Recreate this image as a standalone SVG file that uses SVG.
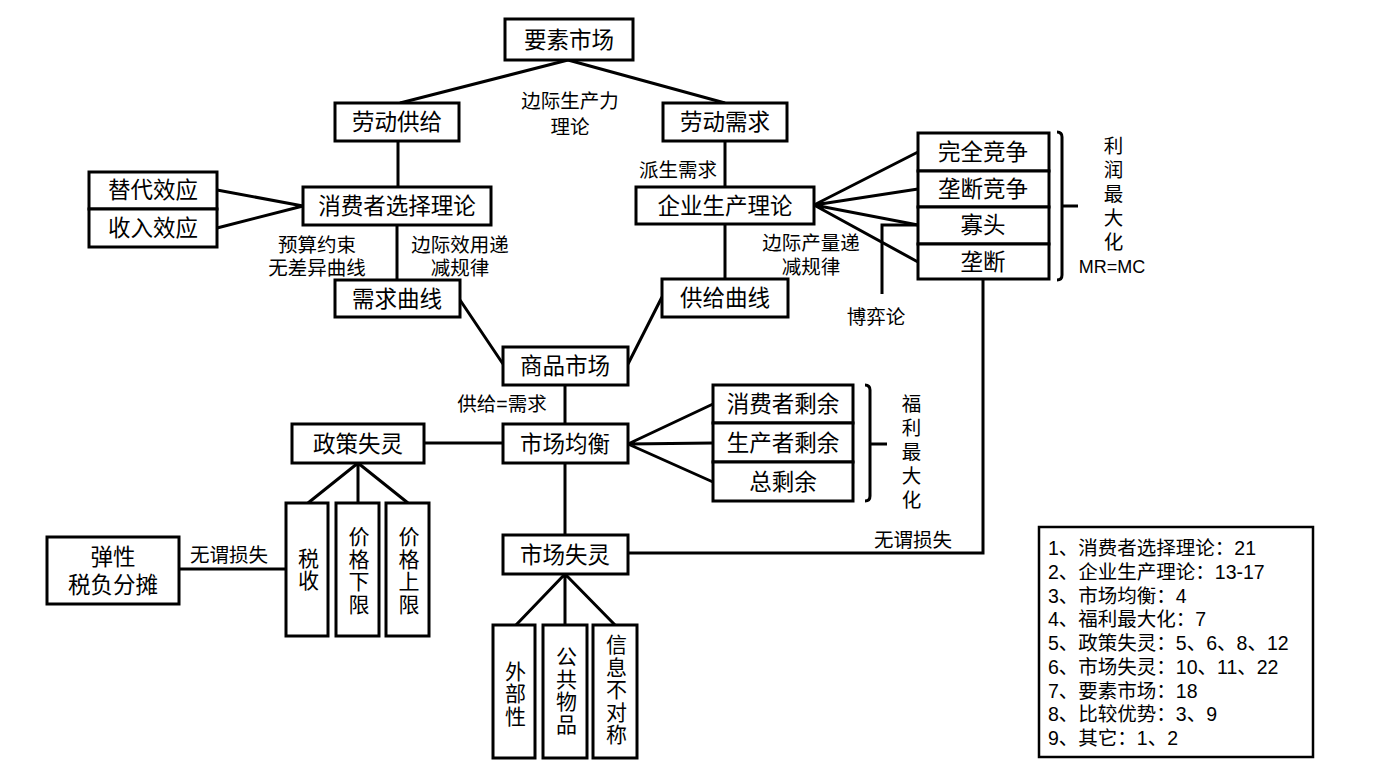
<svg xmlns="http://www.w3.org/2000/svg" width="1376" height="776" viewBox="0 0 1376 776">
<style>
.b{fill:#fff;stroke:#000;stroke-width:3}
.l{fill:none;stroke:#000;stroke-width:3}
text{font-family:"Liberation Sans","Noto Sans CJK SC",sans-serif;fill:#000;text-anchor:middle;dominant-baseline:central}
.t{font-size:22.5px}
.s{font-size:19.5px}
.v{font-size:21px;writing-mode:vertical-rl;text-orientation:upright;letter-spacing:1.5px}
.vs{font-size:19.5px;writing-mode:vertical-rl;text-orientation:upright;letter-spacing:4.5px}
.g{font-size:19.5px;text-anchor:start}
</style>
<rect width="1376" height="776" fill="#fff"/>
<g id="connectors">
<path class="l" d="M568,60 L400,103 M568,60 L725,103"/>
<path class="l" d="M398,141 V187 M397,225 V280"/>
<path class="l" d="M303,206 L217,190 M303,206 L217,228"/>
<path class="l" d="M725,141 V187 M725,224 V279"/>
<path class="l" d="M814,205 L918,152 M814,205 L918,189 M814,205 L918,225 M814,205 L918,262"/>
<path class="l" d="M918,225 H882 V294"/>
<path class="l" d="M460,300 L503,364 M662,297 L628,364"/>
<path class="l" d="M565,385 V424 M424,443 H503 M565,463 V535"/>
<path class="l" d="M628,444 L713,404 M628,444 L713,443 M628,444 L713,482"/>
<path class="l" d="M358,463 L308,503 M358,463 V503 M358,463 L408,503"/>
<path class="l" d="M179,569 H286"/>
<path class="l" d="M565,574 L516,625 M565,574 V625 M565,574 L615,625"/>
<path class="l" d="M983,280 V553 H628"/>
<path class="l" d="M1057,132 Q1062,132 1062,137 V275 Q1062,280 1057,280 M1062,206 H1078"/>
<path class="l" d="M865,385 Q870,385 870,390 V496 Q870,501 865,501 M870,444 H887"/>
</g>
<g id="n-yaosu"><rect class="b" x="505" y="19" width="128" height="41"/><text class="t" x="569" y="40">要素市场</text></g>
<g id="n-ldgj"><rect class="b" x="335" y="103" width="124" height="38"/><text class="t" x="397" y="122">劳动供给</text></g>
<g id="n-ldxq"><rect class="b" x="663" y="103" width="124" height="38"/><text class="t" x="725" y="122">劳动需求</text></g>
<g id="n-xfz"><rect class="b" x="303" y="187" width="188" height="38"/><text class="t" x="397" y="206">消费者选择理论</text></g>
<g id="n-tdxy"><rect class="b" x="89" y="172" width="128" height="37"/><text class="t" x="153" y="190">替代效应</text></g>
<g id="n-srxy"><rect class="b" x="89" y="209" width="128" height="38"/><text class="t" x="153" y="228">收入效应</text></g>
<g id="n-xqqx"><rect class="b" x="335" y="280" width="125" height="37"/><text class="t" x="397" y="299">需求曲线</text></g>
<g id="n-qysc"><rect class="b" x="636" y="187" width="178" height="37"/><text class="t" x="725" y="206">企业生产理论</text></g>
<g id="n-gjqx"><rect class="b" x="662" y="279" width="126" height="38"/><text class="t" x="725" y="298">供给曲线</text></g>
<g id="n-wqjz"><rect class="b" x="918" y="133" width="131" height="38"/><text class="t" x="983" y="152">完全竞争</text></g>
<g id="n-ldjz"><rect class="b" x="918" y="171" width="131" height="36"/><text class="t" x="983" y="189">垄断竞争</text></g>
<g id="n-gt"><rect class="b" x="918" y="207" width="131" height="37"/><text class="t" x="983" y="225">寡头</text></g>
<g id="n-ld"><rect class="b" x="918" y="244" width="131" height="35"/><text class="t" x="983" y="262">垄断</text></g>
<g id="n-spsc"><rect class="b" x="503" y="347" width="125" height="38"/><text class="t" x="565" y="366">商品市场</text></g>
<g id="n-scjh"><rect class="b" x="503" y="424" width="125" height="39"/><text class="t" x="565" y="444">市场均衡</text></g>
<g id="n-zcsl"><rect class="b" x="292" y="424" width="132" height="39"/><text class="t" x="358" y="444">政策失灵</text></g>
<g id="n-xfzsy"><rect class="b" x="713" y="385" width="140" height="38"/><text class="t" x="783" y="404">消费者剩余</text></g>
<g id="n-sczsy"><rect class="b" x="713" y="423" width="140" height="39"/><text class="t" x="783" y="443">生产者剩余</text></g>
<g id="n-zsy"><rect class="b" x="713" y="462" width="140" height="39"/><text class="t" x="783" y="482">总剩余</text></g>
<g id="n-ss"><rect class="b" x="286" y="503" width="42" height="133"/><text class="v" x="307" y="570">税收</text></g>
<g id="n-jgxx"><rect class="b" x="336" y="503" width="43" height="133"/><text class="v" x="357.5" y="571">价格下限</text></g>
<g id="n-jgsx"><rect class="b" x="386" y="503" width="43" height="133"/><text class="v" x="407.5" y="571">价格上限</text></g>
<g id="n-tx"><rect class="b" x="47" y="537" width="132" height="67"/><text class="t" x="113" y="557"><tspan x="113">弹性</tspan><tspan x="113" dy="28">税负分摊</tspan></text></g>
<g id="n-scsl"><rect class="b" x="503" y="535" width="125" height="39"/><text class="t" x="565" y="555">市场失灵</text></g>
<g id="n-wbx"><rect class="b" x="493" y="625" width="42" height="133"/><text class="v" x="514" y="694">外部性</text></g>
<g id="n-ggwp"><rect class="b" x="543" y="625" width="44" height="133"/><text class="v" x="565" y="691">公共物品</text></g>
<g id="n-xxbdc"><rect class="b" x="593" y="625" width="44" height="133"/><text class="v" x="615" y="690">信息不对称</text></g>
<g id="labels">
<text class="s" x="570" y="101"><tspan x="570">边际生产力</tspan><tspan x="570" dy="26">理论</tspan></text>
<text class="s" x="317" y="245"><tspan x="317">预算约束</tspan><tspan x="317" dy="23">无差异曲线</tspan></text>
<text class="s" x="460" y="245"><tspan x="460">边际效用递</tspan><tspan x="460" dy="23">减规律</tspan></text>
<text class="s" x="678" y="170">派生需求</text>
<text class="s" x="811" y="243"><tspan x="811">边际产量递</tspan><tspan x="811" dy="24">减规律</tspan></text>
<text class="s" x="876" y="317">博弈论</text>
<text class="vs" x="1112" y="196">利润最大化</text>
<text class="s" x="1112" y="267" style="font-size:18px">MR=MC</text>
<text class="s" x="502" y="404">供给=需求</text>
<text class="vs" x="910" y="454">福利最大化</text>
<text class="s" x="229" y="555">无谓损失</text>
<text class="s" x="913" y="540">无谓损失</text>
</g>
<g id="legend">
<rect x="1039" y="527" width="274" height="230" fill="#fff" stroke="#000" stroke-width="2.5"/>
<text class="g" x="1048" y="548">1、消费者选择理论：21</text>
<text class="g" x="1048" y="572">2、企业生产理论：13-17</text>
<text class="g" x="1048" y="596">3、市场均衡：4</text>
<text class="g" x="1048" y="619">4、福利最大化：7</text>
<text class="g" x="1048" y="643">5、政策失灵：5、6、8、12</text>
<text class="g" x="1048" y="667">6、市场失灵：10、11、22</text>
<text class="g" x="1048" y="691">7、要素市场：18</text>
<text class="g" x="1048" y="714">8、比较优势：3、9</text>
<text class="g" x="1048" y="738">9、其它：1、2</text>
</g>
</svg>
